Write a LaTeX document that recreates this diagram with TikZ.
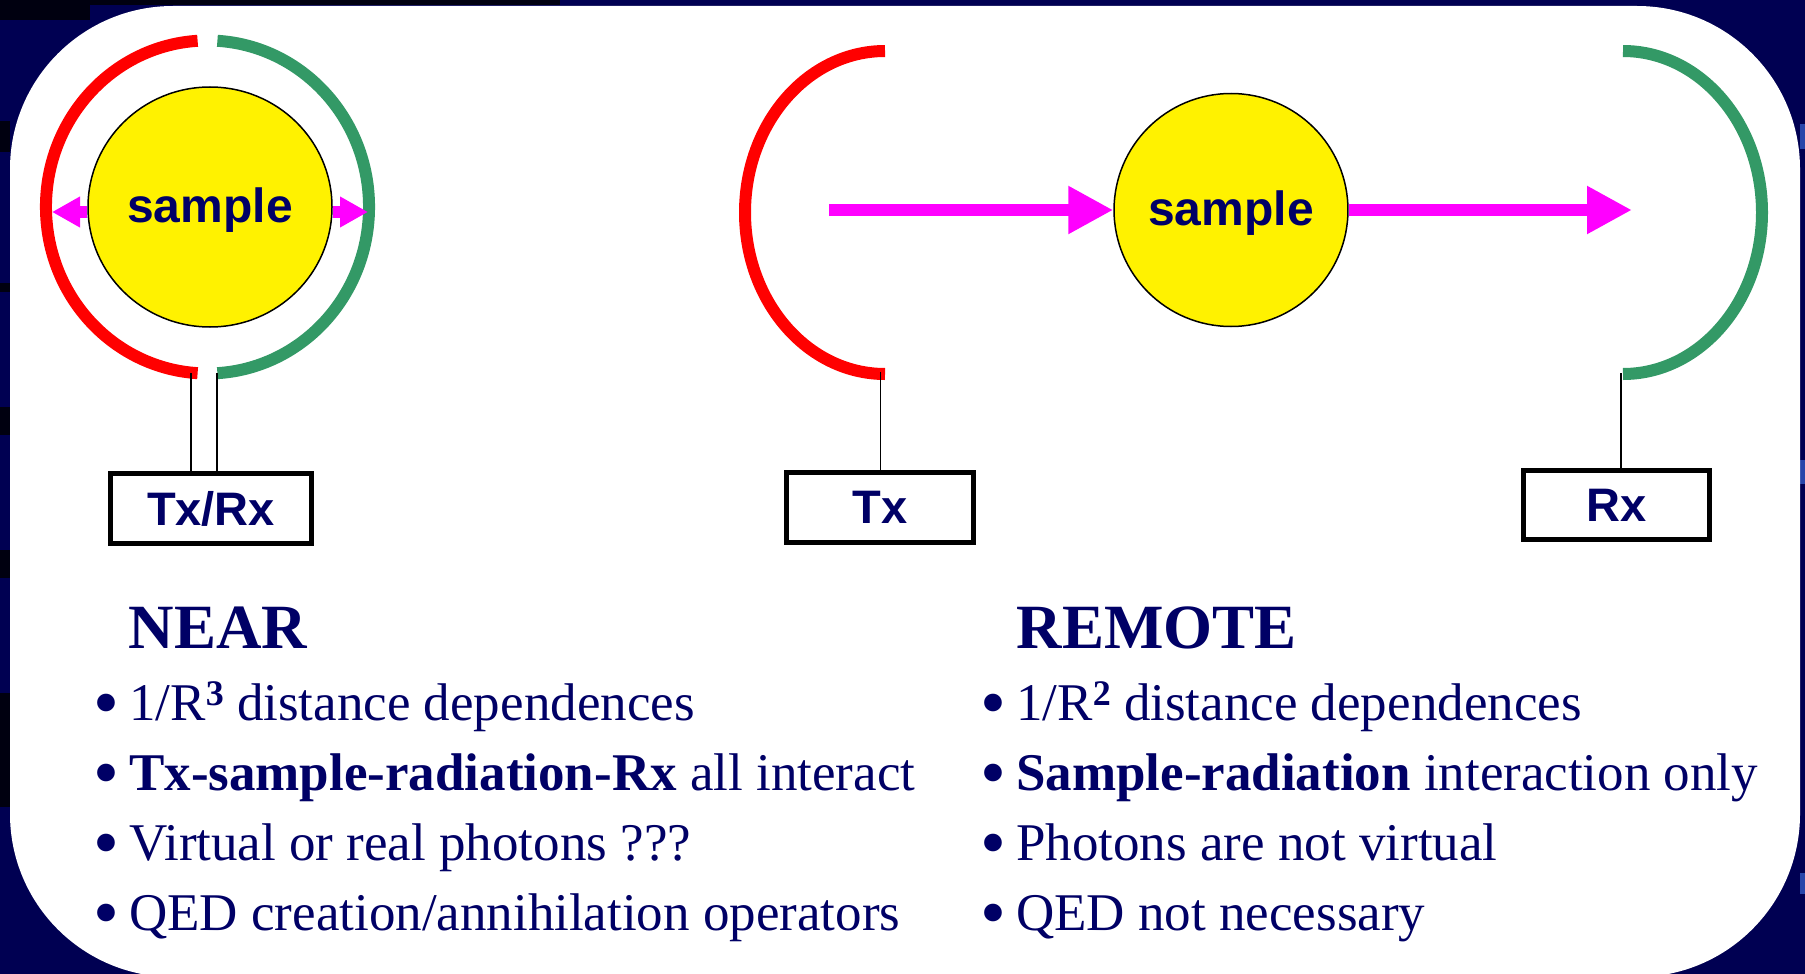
\documentclass[tikz,border=0pt]{standalone}
\usepackage{fontspec}
\setmainfont{Liberation Serif}
\newfontfamily\hvfont{Liberation Sans}
\usetikzlibrary{arrows.meta,shapes.geometric}
\definecolor{navytext}{RGB}{0,0,102}
\definecolor{bgnavy}{RGB}{0,0,82}
\definecolor{bandblack}{RGB}{0,0,16}
\definecolor{bandblue}{RGB}{40,70,170}
\definecolor{antgreen}{RGB}{51,153,102}
\definecolor{magentaarrow}{RGB}{255,0,255}
\newcommand{\mybul}{\makebox[36pt][l]{\raisebox{-7pt}{\fontsize{74}{80}\selectfont •}}}
\newcommand{\mysupnum}[1]{\raisebox{15pt}{\fontsize{36}{36}\selectfont\bfseries #1}}
\begin{document}
\begin{tikzpicture}[x=1pt,y=-1pt,
  antenna/.style={line width=12pt},
  samp/.style={ellipse, draw=black, line width=1.5pt, fill=yellow, inner sep=0pt,
    font=\hvfont\bfseries\fontsize{48}{56}\selectfont, text=navytext},
  boxnode/.style={draw=black, line width=5pt, fill=white, inner sep=0pt,
    font=\hvfont\bfseries\fontsize{47}{56}\selectfont, text=navytext},
  feed/.style={line width=1.6pt, black},
  smallarrow/.style={magentaarrow, line width=12pt, -{Triangle[length=28pt,width=29pt]}},
  bigarrow/.style={magentaarrow, line width=12pt, -{Triangle[length=45pt,width=45pt]}},
  headtext/.style={anchor=base west, inner sep=0pt, text=navytext,
    font=\bfseries\fontsize{63}{70}\selectfont},
  itemtext/.style={anchor=base west, inner sep=0pt, text=navytext,
    font=\fontsize{53}{60}\selectfont},
]
\useasboundingbox (0,0) rectangle (1805,974);
% background
\fill[bgnavy] (0,0) rectangle (1805,974);
\fill[bandblack] (0,0) rectangle (560,5);
\fill[bandblack] (0,0) rectangle (90,20);
\foreach \a/\b in {121/152, 283/292, 407/435, 550/578, 693/807}
  \fill[bandblack] (0,\a) rectangle (10,\b);
\foreach \a/\b in {124/149, 460/484, 873/894}
  \fill[bandblue] (1800,\a) rectangle (1805,\b);
\fill[white, rounded corners=163pt] (10,6) rectangle (1800,977);

% ---------- NEAR diagram ----------
\draw[antenna, red] (197.6,40.8) arc[start angle=-93.5, end angle=-266.5, x radius=161.5, y radius=166.5];
\draw[antenna, antgreen] (217.4,40.8) arc[start angle=-86.5, end angle=86.5, x radius=161.5, y radius=166.5];
\node[samp, minimum width=244pt, minimum height=240pt] (s1) at (210,207) {\raisebox{-3pt}[\height][\depth]{sample}};
\coordinate (nlt) at (52,212);
\coordinate (nrt) at (368,212);
\draw[smallarrow] (s1.west |- nlt) -- (nlt);
\draw[smallarrow] (s1.east |- nrt) -- (nrt);
\node[boxnode, minimum width=201pt, minimum height=70pt] (trx) at (211,508.5) {Tx/Rx};
\coordinate (nred) at (191,373);
\coordinate (ngreen) at (217,373);
\draw[feed] (nred) -- (nred |- trx.north);
\draw[feed] (ngreen) -- (ngreen |- trx.north);

% ---------- REMOTE diagram ----------
\draw[antenna, red] (885,51) arc[start angle=-90, end angle=-270, x radius=140, y radius=161.5];
\draw[antenna, antgreen] (1623,51) arc[start angle=-90, end angle=90, x radius=139, y radius=161.5];
\node[samp, minimum width=226pt, minimum height=233pt] (s2) at (1231,210) {\raisebox{-3pt}[\height][\depth]{sample}};
\coordinate (a1) at (829,210);
\coordinate (a2) at (1632,210);
\draw[bigarrow] (a1) -- (s2.west);
\draw[bigarrow] (s2.east) -- (a2);
\node[boxnode, minimum width=187pt, minimum height=70pt] (tx) at (880,507.5) {Tx};
\node[boxnode, minimum width=186pt, minimum height=69pt] (rx) at (1616.5,505) {Rx};
\coordinate (txfeed) at (880.5,372);
\coordinate (rxfeed) at (1621,373);
\draw[feed] (txfeed) -- (txfeed |- tx.north);
\draw[feed] (rxfeed) -- (rxfeed |- rx.north);

% ---------- text ----------
\node[headtext] (near) at (128.6,648) {NEAR};
\node[itemtext] (n1) at (93,720) {\mybul 1/R\mysupnum{3} distance dependences};
\node[itemtext] (n2) at (93,790) {\mybul\textbf{Tx-sample-radiation-Rx} all interact};
\node[itemtext] (n3) at (93,860) {\mybul Virtual or real photons ???};
\node[itemtext] (n4) at (93,930) {\mybul QED creation/annihilation operators};

\node[headtext] (remote) at (1016.6,648) {REMOTE};
\node[itemtext] (r1) at (980,720) {\mybul 1/R\mysupnum{2} distance dependences};
\node[itemtext] (r2) at (980,790) {\mybul\textbf{Sample-radiation} interaction only};
\node[itemtext] (r3) at (980,860) {\mybul Photons are not virtual};
\node[itemtext] (r4) at (980,930) {\mybul QED not necessary};
\end{tikzpicture}
\end{document}
